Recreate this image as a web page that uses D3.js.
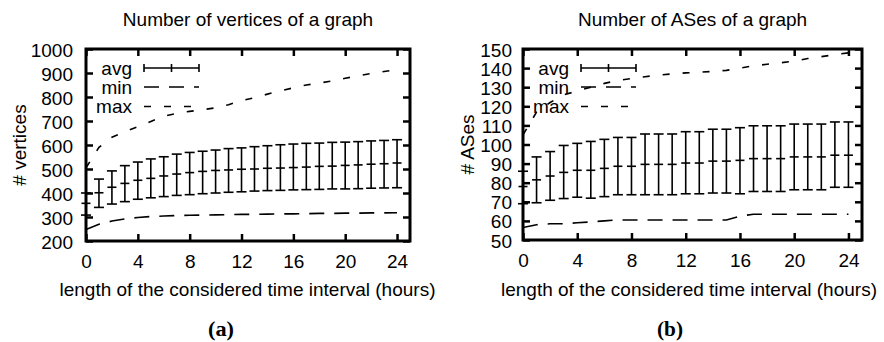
<!DOCTYPE html>
<html>
<head>
<meta charset="utf-8">
<script src="https://cdn.jsdelivr.net/npm/d3@7"></script>
<style>
  body { margin: 0; background: #fff; }
  svg { display: block; font-family: "Liberation Sans", Arial, Helvetica, sans-serif; }
</style>
</head>
<body>
<div id="chart"></div>
<script>
const hours = [0,1,2,3,4,5,6,7,8,9,10,11,12,13,14,15,16,17,18,19,20,21,22,23,24];
const xTicks = [0,4,8,12,16,20,24];
const legendNames = ["avg", "min", "max"];

// (a) vertices
const vertTicks = [200,300,400,500,600,700,800,900,1000];
const vertAvg  = [357,401,424,440,453,461,471,479,485,490,494,496,499,500,503,504,506,508,511,512,515,517,520,522,525];
const vertLow  = [308,340,354,364,374,380,385,390,393,397,400,403,405,408,410,411,413,414,415,417,417,418,420,421,422];
const vertHigh = [400,458,492,514,529,542,551,562,569,574,579,585,588,593,597,601,604,607,608,611,612,614,617,619,622];
const vertMin  = [248,270,283,292,298,302,304,306,307,308,309,310,311,311,312,313,313,314,315,315,316,316,317,317,318];
const vertMax  = [505,590,632,655,676,698,720,732,740,747,755,768,785,797,812,826,838,850,858,867,878,888,898,906,915];

// (b) ASes
const asTicks = [50,60,70,80,90,100,110,120,130,140,150];
const asAvg  = [78,81.5,83.5,85.4,86.5,86.5,87.5,88.6,88.6,89.6,89.6,89.6,90.3,90.3,91.3,91.3,91.7,92.6,92.6,92.6,93.5,93.5,93.5,94.4,94.4];
const asLow  = [69,69.5,70.8,71.7,72.4,71.9,72.7,73.7,73.7,73.7,73.7,73.7,74.2,74.2,74.6,74.6,74.2,75.4,75.4,75.4,76.3,76.3,76.3,77.6,77.6];
const asHigh = [86,93.5,96.3,99.5,100.6,101.6,102.7,103.7,103.7,105.5,105.5,105.5,106.7,106.7,108,108,108.8,109.8,109.8,109.8,110.7,110.7,110.7,111.8,111.8];
const asMin  = [56.5,58,58.5,58.5,59,59.5,60,60.5,60.5,60.5,60.5,60.5,60.5,60.5,60.5,60.5,62.5,63.5,63.5,63.5,63.5,63.5,63.5,63.5,63.5];
const asMax  = [105,117,122,126,128,130,132,133.5,134.5,135.5,136.3,137,137.5,137.8,138.3,138.8,140,141.2,142,142.8,143.6,145,146,147,148];

const minDash = "15,10";
const maxDash = "7,13";

const svg = d3.select("#chart").append("svg")
  .attr("width", 884)
  .attr("height", 342);

function panel(o) {
  const x = d3.scaleLinear().domain([0, 25]).range([o.left, o.right]);
  const y = d3.scaleLinear().domain([o.yTicks[0], o.yTicks[o.yTicks.length - 1]]).range([o.bottom, o.top]);
  const g = svg.append("g");

  const fixAxis = a => {
    a.attr("font-size", 19).attr("font-family", null);
    a.select(".domain").remove();
    a.selectAll(".tick line").attr("stroke-width", 2.5);
  };

  // ticks on all four sides, pointing inward
  g.append("g")
    .attr("transform", `translate(${o.left},0)`)
    .call(d3.axisLeft(y).tickValues(o.yTicks).tickFormat(d3.format("d")).tickSize(-7).tickPadding(o.yPad))
    .call(fixAxis)
    .selectAll("text").attr("dy", "0.37em");
  g.append("g")
    .attr("transform", `translate(${o.right},0)`)
    .call(d3.axisRight(y).tickValues(o.yTicks).tickSize(-7).tickFormat(""))
    .call(fixAxis);
  g.append("g")
    .attr("transform", `translate(0,${o.bottom})`)
    .call(d3.axisBottom(x).tickValues(xTicks).tickFormat(d3.format("d")).tickSize(-7).tickPadding(13.5))
    .call(fixAxis);
  g.append("g")
    .attr("transform", `translate(0,${o.top})`)
    .call(d3.axisTop(x).tickValues(xTicks).tickSize(-7).tickFormat(""))
    .call(fixAxis);

  const line = d3.line()
    .x((d, i) => x(hours[i]))
    .y(d => y(d));

  g.append("path")
    .datum(o.min)
    .attr("fill", "none")
    .attr("stroke", "#000")
    .attr("stroke-width", 1.6)
    .attr("stroke-dasharray", minDash)
    .attr("d", line);

  g.append("path")
    .datum(o.max)
    .attr("fill", "none")
    .attr("stroke", "#000")
    .attr("stroke-width", 1.6)
    .attr("stroke-dasharray", maxDash)
    .attr("d", line);

  // error bars
  const bars = g.append("g")
    .attr("stroke", "#000")
    .attr("stroke-width", 1.6)
    .selectAll("g")
    .data(hours)
    .join("g");
  bars.append("line")
    .attr("x1", h => x(h)).attr("x2", h => x(h))
    .attr("y1", (h, i) => y(o.low[i])).attr("y2", (h, i) => y(o.high[i]));
  bars.append("line")
    .attr("x1", h => x(h) - 5).attr("x2", h => x(h) + 5)
    .attr("y1", (h, i) => y(o.low[i])).attr("y2", (h, i) => y(o.low[i]));
  bars.append("line")
    .attr("x1", h => x(h) - 5).attr("x2", h => x(h) + 5)
    .attr("y1", (h, i) => y(o.high[i])).attr("y2", (h, i) => y(o.high[i]));
  bars.append("line")
    .attr("x1", h => x(h) - 4.5).attr("x2", h => x(h) + 4.5)
    .attr("y1", (h, i) => y(o.avg[i])).attr("y2", (h, i) => y(o.avg[i]));

  // key
  const kx0 = o.left + 58, kx1 = o.left + 113, km = (kx0 + kx1) / 2;
  const ky = [68, 87, 106.5];
  g.selectAll(".key")
    .data(legendNames)
    .join("text")
    .attr("x", o.left + 46)
    .attr("y", (d, i) => ky[i])
    .attr("dy", "0.36em")
    .attr("text-anchor", "end")
    .attr("font-size", 19)
    .text(d => d);
  const k = g.append("g").attr("stroke", "#000").attr("stroke-width", 1.6);
  k.append("line").attr("x1", kx0).attr("x2", kx1).attr("y1", ky[0]).attr("y2", ky[0]);
  k.append("line").attr("x1", kx0).attr("x2", kx0).attr("y1", ky[0] - 4).attr("y2", ky[0] + 4);
  k.append("line").attr("x1", kx1).attr("x2", kx1).attr("y1", ky[0] - 4).attr("y2", ky[0] + 4);
  k.append("line").attr("x1", km).attr("x2", km).attr("y1", ky[0] - 4).attr("y2", ky[0] + 4);
  k.append("line").attr("x1", kx0).attr("x2", kx1).attr("y1", ky[1]).attr("y2", ky[1])
    .attr("stroke-dasharray", minDash);
  k.append("line").attr("x1", kx0).attr("x2", kx1).attr("y1", ky[2]).attr("y2", ky[2])
    .attr("stroke-dasharray", maxDash);

  g.append("rect")
    .attr("x", o.left).attr("y", o.top)
    .attr("width", o.right - o.left).attr("height", o.bottom - o.top)
    .attr("fill", "none")
    .attr("stroke", "#000")
    .attr("stroke-width", 3);

  g.append("text")
    .attr("x", (o.left + o.right) / 2)
    .attr("y", 26)
    .attr("text-anchor", "middle")
    .attr("font-size", 19)
    .text(o.title);

  g.append("text")
    .attr("x", o.xLabelX)
    .attr("y", 296)
    .attr("text-anchor", "middle")
    .attr("font-size", 19)
    .text("length of the considered time interval (hours)");

  g.append("text")
    .attr("transform", `translate(${o.yLabelX},${(o.top + o.bottom) / 2}) rotate(-90)`)
    .attr("text-anchor", "middle")
    .attr("font-size", 19)
    .text(o.yLabel);

  g.append("text")
    .attr("x", o.tagX)
    .attr("y", 336)
    .attr("text-anchor", "middle")
    .attr("font-family", "'Liberation Serif', 'Times New Roman', serif")
    .attr("font-weight", "bold")
    .attr("font-size", 20)
    .attr("textLength", 26)
    .attr("lengthAdjust", "spacingAndGlyphs")
    .text(o.tag);
}

panel({
  left: 86, right: 410, top: 49, bottom: 241,
  yTicks: vertTicks, yPad: 13,
  avg: vertAvg, low: vertLow, high: vertHigh, min: vertMin, max: vertMax,
  title: "Number of vertices of a graph",
  yLabel: "# vertices", yLabelX: 25.5,
  xLabelX: 247.5, tagX: 221, tag: "(a)"
});

panel({
  left: 523, right: 862, top: 49, bottom: 240,
  yTicks: asTicks, yPad: 11,
  avg: asAvg, low: asLow, high: asHigh, min: asMin, max: asMax,
  title: "Number of ASes of a graph",
  yLabel: "# ASes", yLabelX: 473.5,
  xLabelX: 689, tagX: 670, tag: "(b)"
});
</script>
</body>
</html>
